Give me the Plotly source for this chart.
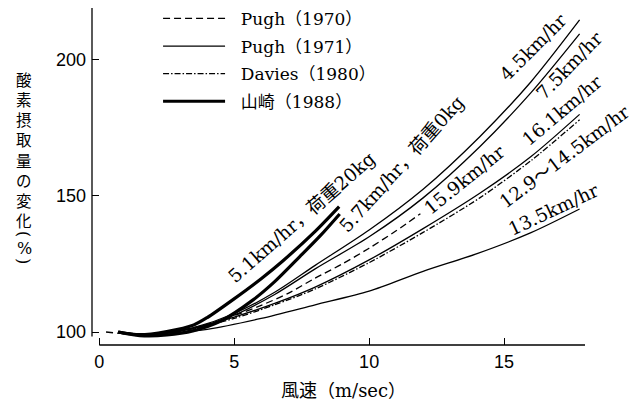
import plotly.graph_objects as go

# ---------------- data ----------------
# Pugh (1970) dashed, 15.9 km/hr
p70_x = [0.25, 1.0, 2.0, 3.0, 4.0, 5.0, 6.0, 7.0, 8.0, 9.0, 10.0, 11.0, 11.9]
p70_y = [100.0, 99.3, 99.2, 100.5, 102.8, 106.0, 109.8, 114.2, 119.8, 125.0, 130.8, 137.2, 143.5]

# Pugh (1971) solid curves
p71_45_x = [0.7, 1.5, 2.5, 3.5, 5.0, 6.5, 8.0, 10.0, 12.0, 14.1, 16.0, 17.8]
p71_45_y = [100.0, 99.0, 99.7, 101.6, 106.8, 114.6, 124.5, 137.5, 152.5, 171.8, 192.0, 214.7]
p71_75_x = [0.7, 1.5, 2.5, 3.5, 5.0, 6.5, 8.0, 10.0, 12.0, 14.1, 16.0, 17.8]
p71_75_y = [100.0, 99.0, 99.6, 101.3, 106.2, 113.8, 123.2, 135.0, 149.3, 168.1, 188.0, 209.6]
p71_161_x = [0.7, 1.5, 2.5, 3.5, 5.0, 6.5, 8.0, 10.0, 12.0, 14.1, 16.0, 17.8]
p71_161_y = [100.0, 99.2, 99.8, 101.5, 105.5, 110.5, 116.5, 126.5, 138.0, 151.0, 164.5, 180.0]
p71_135_x = [0.7, 1.5, 2.5, 4.0, 6.0, 8.0, 10.0, 12.0, 14.0, 16.0, 17.8]
p71_135_y = [100.0, 99.2, 99.6, 101.0, 105.0, 110.0, 115.0, 122.3, 128.8, 136.5, 145.2]

# Davies (1980) dash-dot, 12.9~14.5 km/hr
dav_x = [0.7, 1.5, 2.5, 3.5, 5.0, 6.5, 8.0, 10.0, 12.0, 14.1, 16.0, 17.8]
dav_y = [100.0, 99.1, 99.6, 101.2, 105.0, 110.0, 115.8, 125.5, 136.6, 149.3, 163.0, 178.0]

# 山崎 (1988) thick curves
yam20_x = [0.7, 1.5, 2.5, 3.5, 4.0, 4.97, 6.0, 6.81, 8.0, 8.89]
yam20_y = [100.0, 99.0, 100.2, 102.6, 105.3, 112.0, 119.6, 126.2, 137.0, 146.1]
yam0_x = [0.7, 1.5, 2.5, 3.5, 4.5, 5.7, 6.5, 7.43, 8.2, 8.91]
yam0_y = [100.0, 98.7, 98.9, 100.5, 104.0, 111.8, 118.5, 127.7, 135.5, 143.4]

legend_names = ["Pugh（1970）", "Pugh（1971）", "Davies（1980）", "山崎（1988）"]

x_ticks = [0, 5, 10, 15]
y_ticks = [100, 150, 200]
x_title = "風速（m/sec）"
y_title_main = "酸素摂取量の変化"
y_title_unit = ["(", "%", ")"]

curve_labels = ["4.5km/hr", "7.5km/hr", "16.1km/hr", "12.9～14.5km/hr", "13.5km/hr",
                "15.9km/hr", "5.7km/hr，荷重0kg", "5.1km/hr，荷重20kg"]

# ---------------- styles ----------------
SERIF = "DejaVu Serif, Noto Sans CJK JP"
SANS = "Liberation Sans, Arial"
CJK = "Noto Sans CJK JP"
THIN = 1.3
THICK = 3.2

fig = go.Figure()

def add(x, y, name, dash, width, show):
    fig.add_trace(go.Scatter(
        x=x, y=y, mode="lines", name=name, legendgroup=name, showlegend=show,
        line=dict(color="black", width=width, dash=dash, shape="spline", smoothing=0.8),
        hoverinfo="skip"))

NB = "\u00a0\u00a0"
add(p70_x, p70_y, NB + legend_names[0], "7px,4px", THIN, True)
add(p71_45_x, p71_45_y, NB + legend_names[1], "solid", THIN, True)
add(p71_75_x, p71_75_y, NB + legend_names[1], "solid", THIN, False)
add(p71_161_x, p71_161_y, NB + legend_names[1], "solid", THIN, False)
add(p71_135_x, p71_135_y, NB + legend_names[1], "solid", THIN, False)
add(dav_x, dav_y, NB + legend_names[2], "6px,2px,1.5px,2px", THIN, True)
add(yam20_x, yam20_y, NB + legend_names[3], "solid", THICK, True)
add(yam0_x, yam0_y, NB + legend_names[3], "solid", THICK, False)

# curve labels (centre in data units, angle)
label_pos = [
    (16.08, 204.4, -45), (17.43, 197.8, -46), (17.14, 181.6, -40), (17.25, 164.5, -37),
    (16.84, 145.0, -25), (13.55, 155.9, -39), (11.23, 161.8, -48), (7.49, 142.1, -41),
]
for txt, (lx, ly, ang) in zip(curve_labels, label_pos):
    fig.add_annotation(x=lx, y=ly, xref="x", yref="y", text=txt, showarrow=False,
                       textangle=ang, font=dict(family=SERIF, size=18.5, color="black"),
                       xanchor="center", yanchor="middle")

L, B, T, W = 92, 56, 8, 493.3
H = 401 - B - T

def px_to_paper(px, py):
    return (px - L) / W, (401 - B - py) / H

# vertical y-axis title: kanji stacked, unit with turned parentheses
yx, yy = px_to_paper(24, 149)
fig.add_annotation(x=yx, y=yy, xref="paper", yref="paper", text="<br>".join(y_title_main),
                   showarrow=False, xanchor="center", yanchor="middle",
                   font=dict(family=CJK, size=15.5, color="black"))
for ch, py, ang in zip(y_title_unit, [234, 248.5, 261], [90, 0, 90]):
    ux, uy = px_to_paper(24, py)
    fig.add_annotation(x=ux, y=uy, xref="paper", yref="paper", text=ch, showarrow=False,
                       textangle=ang, xanchor="center", yanchor="middle",
                       font=dict(family="DejaVu Serif", size=16, color="black"))

# x-axis title
tx, ty = px_to_paper(343.5, 390)
fig.add_annotation(x=tx, y=ty, xref="paper", yref="paper", text=x_title, showarrow=False,
                   xanchor="center", yanchor="middle",
                   font=dict(family=SERIF, size=18, color="black"))

# detached axis lines
fig.add_shape(type="line", xref="x", yref="paper", x0=0, x1=18, y0=0, y1=0,
              line=dict(color="black", width=1.3))
fig.add_shape(type="line", xref="paper", yref="y", x0=0, x1=0, y0=98.3, y1=219.1,
              line=dict(color="black", width=1.3))

fig.update_layout(
    width=639, height=401,
    margin=dict(l=L, r=639 - L - W, t=T, b=B, autoexpand=False),
    paper_bgcolor="white", plot_bgcolor="white",
    showlegend=True,
    legend=dict(x=0.134, y=1.021, xanchor="left", yanchor="top", bgcolor="rgba(0,0,0,0)",
                font=dict(family=SERIF, size=17, color="black"), itemwidth=62,
                tracegroupgap=2.5),
    xaxis=dict(range=[-0.27, 18.0], tickvals=x_ticks, ticks="inside", ticklen=7,
               tickwidth=1.3, tickcolor="black", showline=False, showgrid=False,
               zeroline=False, ticklabelstandoff=4,
               tickfont=dict(family=SANS, size=18, color="black")),
    yaxis=dict(range=[95.22, 219.1], tickvals=y_ticks, ticks="inside", ticklen=7,
               tickwidth=1.3, tickcolor="black", showline=False, showgrid=False,
               zeroline=False, ticklabelstandoff=5,
               tickfont=dict(family=SANS, size=18, color="black")),
)

fig.write_html("out.html")
